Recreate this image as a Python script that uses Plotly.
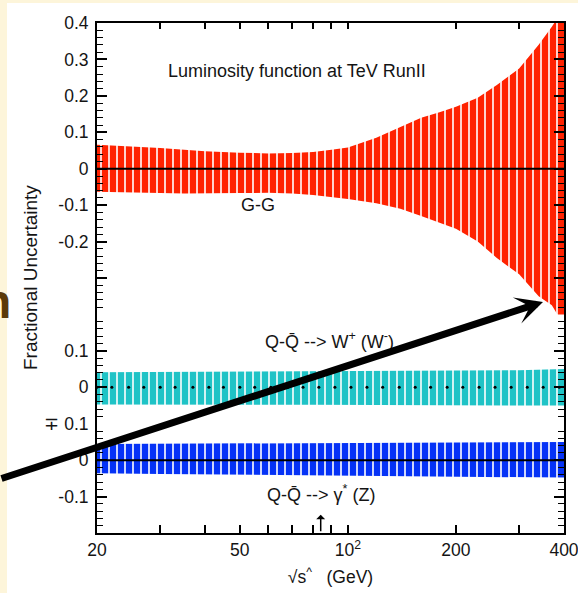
import math
import plotly.graph_objects as go
from plotly.subplots import make_subplots

# ---------------- data ----------------
# G-G luminosity fractional uncertainty band
gg_energy = [20, 25, 30, 35, 40, 50, 60, 70, 80, 90, 100, 120, 140, 160, 180, 200, 230, 260, 300, 340, 370, 400]
gg_upper = [0.066, 0.062, 0.057, 0.052, 0.048, 0.044, 0.042, 0.043, 0.046, 0.052, 0.058, 0.085, 0.115, 0.14,
            0.155, 0.17, 0.195, 0.23, 0.275, 0.34, 0.39, 0.44]
gg_lower = [-0.063, -0.065, -0.067, -0.068, -0.068, -0.067, -0.066, -0.068, -0.072, -0.077, -0.083, -0.095, -0.11,
            -0.13, -0.148, -0.165, -0.20, -0.245, -0.29, -0.35, -0.375, -0.43]

# Q-Qbar -> W+ (W-) band
w_energy = [20, 30, 40, 60, 80, 100, 150, 200, 300, 400]
w_upper = [0.041, 0.042, 0.042, 0.043, 0.043, 0.043, 0.044, 0.045, 0.047, 0.050]
w_lower = [-0.047, -0.047, -0.048, -0.048, -0.048, -0.048, -0.048, -0.049, -0.050, -0.050]
# central values (markers) of the W band
w_point_energy = [20, 22, 24.5, 27, 30, 33, 37, 41, 45, 50, 55, 61, 68, 75, 83, 92, 102, 113, 125, 139,
                  154, 170, 189, 209, 232, 257, 285, 316, 350, 388]
w_central = [0.0] * len(w_point_energy)

# Q-Qbar -> gamma* (Z) band
z_energy = [20, 30, 40, 60, 80, 100, 150, 200, 300, 400]
z_upper = [0.044, 0.045, 0.046, 0.047, 0.048, 0.048, 0.048, 0.049, 0.050, 0.050]
z_lower = [-0.036, -0.038, -0.040, -0.042, -0.043, -0.044, -0.045, -0.046, -0.047, -0.048]

# axis ticks
x_tickvals = [20, 30, 40, 50, 60, 70, 80, 90, 100, 200, 300, 400]
x_ticktext = ["20", "", "", "50", "", "", "", "", "10<sup>2</sup>", "200", "", "400"]
y1_tickvals = [0.4, 0.3, 0.2, 0.1, 0, -0.1, -0.2, -0.3, -0.4]
y1_ticktext = ["0.4", "0.3", "0.2", "0.1", "0", "-0.1", "-0.2", "", ""]
y2_tickvals = [0.2, 0.1, 0, -0.1]
y2_ticktext = ["", "0.1", "0", ""]
y3_tickvals = [0.1, 0, -0.1, -0.2]
y3_ticktext = ["\u2213 0.1", "0", "-0.1", ""]

# ---------------- styling ----------------
RED = "#FF2200"
CYAN = "#1FC3C6"
BLUE = "#0532F6"
CREAM = "#FDF5DA"
FONT = "Liberation Sans, Arial, sans-serif"
TXT = "#141414"

fig = make_subplots(rows=3, cols=1, shared_xaxes=True, vertical_spacing=0,
                    row_heights=[0.8 / 1.4, 0.3 / 1.4, 0.3 / 1.4])


def band(energy, upper, lower, color, row):
    fig.add_trace(go.Scatter(
        x=list(energy) + list(energy)[::-1],
        y=list(upper) + list(lower)[::-1],
        mode="lines", line=dict(width=0, color=color),
        fill="toself",
        fillpattern=dict(shape="|", size=8, solidity=0.2, fgcolor="white",
                         bgcolor=color, fillmode="replace"),
        showlegend=False, hoverinfo="skip"), row=row, col=1)


band(gg_energy, gg_upper, gg_lower, RED, 1)
band(w_energy, w_upper, w_lower, CYAN, 2)
band(z_energy, z_upper, z_lower, BLUE, 3)

fig.add_trace(go.Scatter(x=w_point_energy, y=w_central, mode="markers",
                         marker=dict(size=3, color="black"),
                         showlegend=False, hoverinfo="skip"), row=2, col=1)

# zero reference lines in the G-G and gamma/Z panels
fig.add_shape(type="line", xref="paper", x0=0, x1=1, yref="y", y0=0, y1=0,
              line=dict(color="black", width=2), layer="above")
fig.add_shape(type="line", xref="paper", x0=0, x1=1, yref="y3", y0=0, y1=0,
              line=dict(color="black", width=2), layer="above")

# page background: cream slide with white card
fig.add_shape(type="rect", xref="paper", yref="paper",
              x0=(7 - 97) / 467, x1=1.1, y0=-0.2, y1=(533 - 3) / 510,
              fillcolor="white", line=dict(width=0), layer="below")

tickfont = dict(family=FONT, size=17.5, color=TXT)
xcommon = dict(type="log", range=[math.log10(20), math.log10(400)], showgrid=False,
               zeroline=False, tickvals=x_tickvals, ticktext=x_ticktext, automargin=False)

fig.update_layout(
    xaxis=dict(**xcommon, side="top", ticks="inside", ticklen=6, tickwidth=1.5,
               tickcolor="black", showticklabels=False, showline=True,
               linewidth=2, linecolor="black"),
    xaxis2=dict(**xcommon, ticks="", showticklabels=False, showline=False),
    xaxis3=dict(**xcommon, ticks="inside", ticklen=8, tickwidth=1.5, tickcolor="black",
                showticklabels=True, showline=True, linewidth=2, linecolor="black",
                tickfont=tickfont, ticklabeloverflow="allow",
                title=dict(text="\u221As<sup>^</sup>   (GeV)", standoff=12,
                           font=dict(family=FONT, size=17.5, color=TXT))),
)

def ycfg(rng, tv, tt):
    return dict(range=rng, tickvals=tv, ticktext=tt, ticks="inside", ticklen=10,
                tickwidth=1.5, tickcolor="black", showline=True, linewidth=2,
                linecolor="black", mirror="ticks", showgrid=False, zeroline=False,
                tickfont=tickfont, ticklabelstandoff=3, automargin=False,
                minor=dict(ticks="inside", ticklen=6, tickwidth=1.2, tickcolor="black",
                           dtick=0.02, tick0=0, showgrid=False))

fig.update_layout(
    yaxis=ycfg([-0.4, 0.4], y1_tickvals, y1_ticktext),
    yaxis2=ycfg([-0.1, 0.2], y2_tickvals, y2_ticktext),
    yaxis3=ycfg([-0.2, 0.1], y3_tickvals, y3_ticktext),
)

lab = dict(family=FONT, size=18, color=TXT)
fig.add_annotation(text="Luminosity function at TeV RunII", xref="x", yref="y",
                   x=math.log10(72), y=0.268, showarrow=False, font=lab)
fig.add_annotation(text="G-G", xref="x", yref="y", x=math.log10(56), y=-0.099,
                   showarrow=False, font=lab)
fig.add_annotation(text="Q-Q\u0304 --> W<sup>+</sup> (W<sup>-</sup>)", xref="x2", yref="y2",
                   x=math.log10(89), y=0.129, showarrow=False, font=lab)
fig.add_annotation(text="Q-Q\u0304 --> \u03b3<sup>*</sup> (Z)", xref="x3", yref="y3",
                   x=math.log10(84), y=-0.091, showarrow=False, font=lab)
fig.add_annotation(text="Fractional Uncertainty", xref="paper", yref="paper",
                   x=(30 - 97) / 467, y=0.5, xanchor="center", yanchor="middle",
                   textangle=-90, showarrow=False,
                   font=dict(family=FONT, size=19, color=TXT))
# small marker arrow on the energy axis
fig.add_annotation(text="", xref="x3", yref="y3", x=math.log10(84), y=-0.15,
                   ax=0, ay=18, showarrow=True, arrowhead=1, arrowwidth=1.5,
                   arrowsize=1, arrowcolor="black")
# partial slide text at left edge
fig.add_annotation(text="n", xref="paper", yref="paper", x=(13 - 97) / 467, y=0.453,
                   xanchor="right", yanchor="middle", showarrow=False,
                   font=dict(family=FONT, size=48, color="#5B3A0A", weight="bold"))
# big overlaid arrow
fig.add_annotation(text="", xref="paper", yref="paper", x=(543 - 97) / 467,
                   y=(533 - 302) / 510, ax=-550, ay=177, showarrow=True,
                   arrowhead=3, arrowwidth=7, arrowsize=0.65, arrowcolor="black",
                   standoff=0)

fig.update_layout(
    width=578, height=593, margin=dict(l=97, r=14, t=23, b=60, autoexpand=False),
    paper_bgcolor=CREAM, plot_bgcolor="white", showlegend=False,
    font=dict(family=FONT, color=TXT),
)

fig.write_html("out.html", config={"displayModeBar": False},
               post_script="document.body.style.margin='0px';document.body.style.overflow='hidden';")
